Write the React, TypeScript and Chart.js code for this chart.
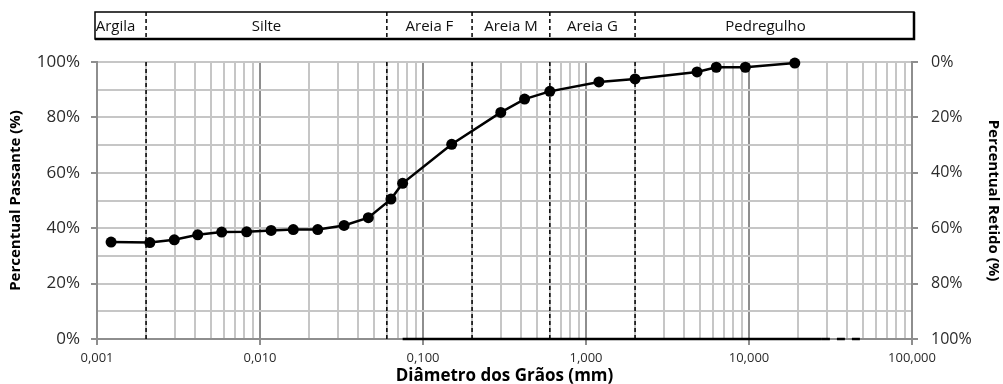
import React, { useEffect, useRef } from 'react';
import { Chart, registerables } from 'chart.js';

Chart.register(...registerables);

// Grain-size distribution (sieve + sedimentation)
const diameters = [
  0.00122, 0.00211, 0.00298, 0.00415, 0.00582, 0.00828, 0.0117, 0.016, 0.0226,
  0.0328, 0.0462, 0.0636, 0.075, 0.15, 0.3, 0.42, 0.6, 1.2, 2.0, 4.8, 6.3, 9.5, 19.1,
];
const passing = [
  35.0, 34.8, 35.8, 37.6, 38.6, 38.7, 39.2, 39.5, 39.5, 41.0, 43.8, 50.5, 56.2,
  70.3, 81.8, 86.6, 89.4, 92.8, 93.9, 96.4, 98.1, 98.1, 99.6,
];

// Fraction limits (mm) and fraction names for the header band
const fractionLimits = [0.002, 0.06, 0.2, 0.6, 2.0];
const fractionNames = ['Argila', 'Silte', 'Areia F', 'Areia M', 'Areia G', 'Pedregulho'];

// Base line along 0 %
const baseSolid = [0.075, 28];
const baseDashed = [28, 50];

// Axis ranges and ticks
const xMin = 0.001;
const xMax = 100;
const xDecades = [0.001, 0.01, 0.1, 1, 10, 100];
const yMin = 0;
const yMax = 100;
const yGridStep = 10;
const yLabelStep = 20;

const FONT = "'Open Sans', 'Noto Sans', sans-serif";
const MINOR = '#c6c6c6';
const MAJOR = '#8e8e8e';
const TICK_TEXT = '#2b2b2b';

const isDecade = (v: number) => {
  const l = Math.log10(v);
  return Math.abs(l - Math.round(l)) < 1e-9;
};

const fmtDiameter = (v: number) => v.toFixed(3).replace('.', ',');

const headerBand = {
  id: 'headerBand',
  afterDraw(chart: any) {
    const { ctx, chartArea, scales } = chart;
    const x = scales.x;
    const left = chartArea.left - 2;
    const right = chartArea.right + 2;
    const top = 12;
    const bottom = 39;
    ctx.save();
    ctx.strokeStyle = '#000';
    ctx.lineWidth = 1.5;
    ctx.strokeRect(left, top, right - left, bottom - top);
    ctx.lineWidth = 2.5;
    ctx.beginPath();
    ctx.moveTo(right, top);
    ctx.lineTo(right, bottom);
    ctx.lineTo(left, bottom);
    ctx.stroke();

    ctx.lineWidth = 1.5;
    ctx.setLineDash([4, 3]);
    const limitPx = fractionLimits.map((b) => x.getPixelForValue(b));
    limitPx.forEach((px) => {
      ctx.beginPath();
      ctx.moveTo(px, top);
      ctx.lineTo(px, bottom);
      ctx.stroke();
    });
    ctx.setLineDash([]);

    const edges = [left, ...limitPx, right];
    const nudge = [-5, 0, 0, 0, 0, -9];
    ctx.fillStyle = '#111';
    ctx.font = `15px ${FONT}`;
    ctx.textAlign = 'center';
    ctx.textBaseline = 'middle';
    fractionNames.forEach((name, i) => {
      const cx = (edges[i] + edges[i + 1]) / 2 + nudge[i];
      ctx.fillText(name, cx, (top + bottom) / 2 + 1);
    });
    ctx.restore();
  },
};

export default function App() {
  const canvasRef = useRef<HTMLCanvasElement | null>(null);

  useEffect(() => {
    const canvas = canvasRef.current;
    if (!canvas) return;

    const xGridTicks: number[] = [];
    for (let d = 0; d < xDecades.length - 1; d++) {
      for (let m = 1; m <= 9; m++) xGridTicks.push(+(xDecades[d] * m).toPrecision(3));
    }
    xGridTicks.push(xDecades[xDecades.length - 1]);

    const limitSets = fractionLimits.map((b) => ({
      data: [
        { x: b, y: yMin },
        { x: b, y: yMax },
      ],
      borderColor: '#000',
      borderWidth: 1.5,
      borderDash: [4, 3],
      pointRadius: 0,
      yAxisID: 'y',
    }));

    const chart = new Chart(canvas, {
      type: 'line',
      data: {
        datasets: [
          {
            data: diameters.map((d, i) => ({ x: d, y: passing[i] })),
            borderColor: '#000',
            borderWidth: 2.5,
            pointRadius: 5.5,
            pointBackgroundColor: '#000',
            pointBorderWidth: 0,
            clip: false,
            yAxisID: 'y',
          },
          ...limitSets,
          {
            data: baseSolid.map((d) => ({ x: d, y: 0 })),
            borderColor: '#000',
            borderWidth: 2.5,
            pointRadius: 0,
            clip: false,
            yAxisID: 'y',
          },
          {
            data: baseDashed.map((d) => ({ x: d, y: 0 })),
            borderColor: '#000',
            borderWidth: 2.5,
            borderDash: [8, 7],
            pointRadius: 0,
            clip: false,
            yAxisID: 'y',
          },
        ],
      },
      options: {
        animation: false,
        responsive: false,
        maintainAspectRatio: false,
        layout: { padding: { top: 62, left: 0, right: 0, bottom: 0 } },
        plugins: { legend: { display: false }, tooltip: { enabled: false } },
        elements: { line: { tension: 0 } },
        scales: {
          x: {
            type: 'logarithmic',
            min: xMin,
            max: xMax,
            afterBuildTicks: (scale: any) => {
              scale.ticks = xGridTicks.map((v) => ({ value: v }));
            },
            afterFit: (scale: any) => {
              scale.height = 45;
            },
            ticks: {
              autoSkip: false,
              maxRotation: 0,
              padding: 5,
              color: TICK_TEXT,
              font: { family: FONT, size: 13 },
              callback: (v: any) => (isDecade(Number(v)) ? fmtDiameter(Number(v)) : ''),
            },
            grid: {
              color: (c: any) => (c.tick && isDecade(c.tick.value) ? MAJOR : MINOR),
              tickColor: (c: any) => (c.tick && isDecade(c.tick.value) ? MAJOR : 'rgba(0,0,0,0)'),
              lineWidth: 2,
              tickLength: 6,
            },
            border: { color: MAJOR, width: 2 },
            title: {
              display: true,
              text: 'Diâmetro dos Grãos (mm)',
              color: '#000',
              font: { family: FONT, size: 17, weight: 'bold' },
              padding: { top: 0, bottom: -2 },
            },
          },
          y: {
            type: 'linear',
            position: 'left',
            min: yMin,
            max: yMax,
            afterFit: (scale: any) => {
              scale.width = 97;
            },
            ticks: {
              stepSize: yGridStep,
              padding: 11,
              color: TICK_TEXT,
              font: { family: FONT, size: 17 },
              callback: (v: any) => (Number(v) % yLabelStep === 0 ? `${v}%` : ''),
            },
            grid: {
              color: MINOR,
              tickColor: (c: any) => (c.tick && c.tick.value % yLabelStep === 0 ? MAJOR : 'rgba(0,0,0,0)'),
              lineWidth: 2,
              tickLength: 6,
            },
            border: { color: MAJOR, width: 2 },
            title: {
              display: true,
              text: 'Percentual Passante (%)',
              color: '#000',
              font: { family: FONT, size: 15, weight: 'bold' },
              padding: { top: 7, bottom: 0 },
            },
          },
          y2: {
            type: 'linear',
            position: 'right',
            reverse: true,
            min: yMin,
            max: yMax,
            afterFit: (scale: any) => {
              scale.width = 91;
            },
            ticks: {
              stepSize: yLabelStep,
              padding: 13,
              color: TICK_TEXT,
              font: { family: FONT, size: 16 },
              callback: (v: any) => `${v}%`,
            },
            grid: {
              drawOnChartArea: false,
              color: MAJOR,
              lineWidth: 2,
              tickLength: 6,
            },
            border: { color: MAJOR, width: 2 },
            title: {
              display: true,
              text: 'Percentual Retido (%)',
              color: '#000',
              font: { family: FONT, size: 15, weight: 'bold' },
              padding: { top: 1, bottom: 0 },
            },
          },
        },
      } as any,
      plugins: [headerBand],
    });

    return () => chart.destroy();
  }, []);

  return (
    <div style={{ position: 'absolute', left: 0, top: 0, width: 1003, height: 384, background: '#fff' }}>
      <canvas ref={canvasRef} width={1003} height={384} style={{ display: 'block' }} />
    </div>
  );
}
